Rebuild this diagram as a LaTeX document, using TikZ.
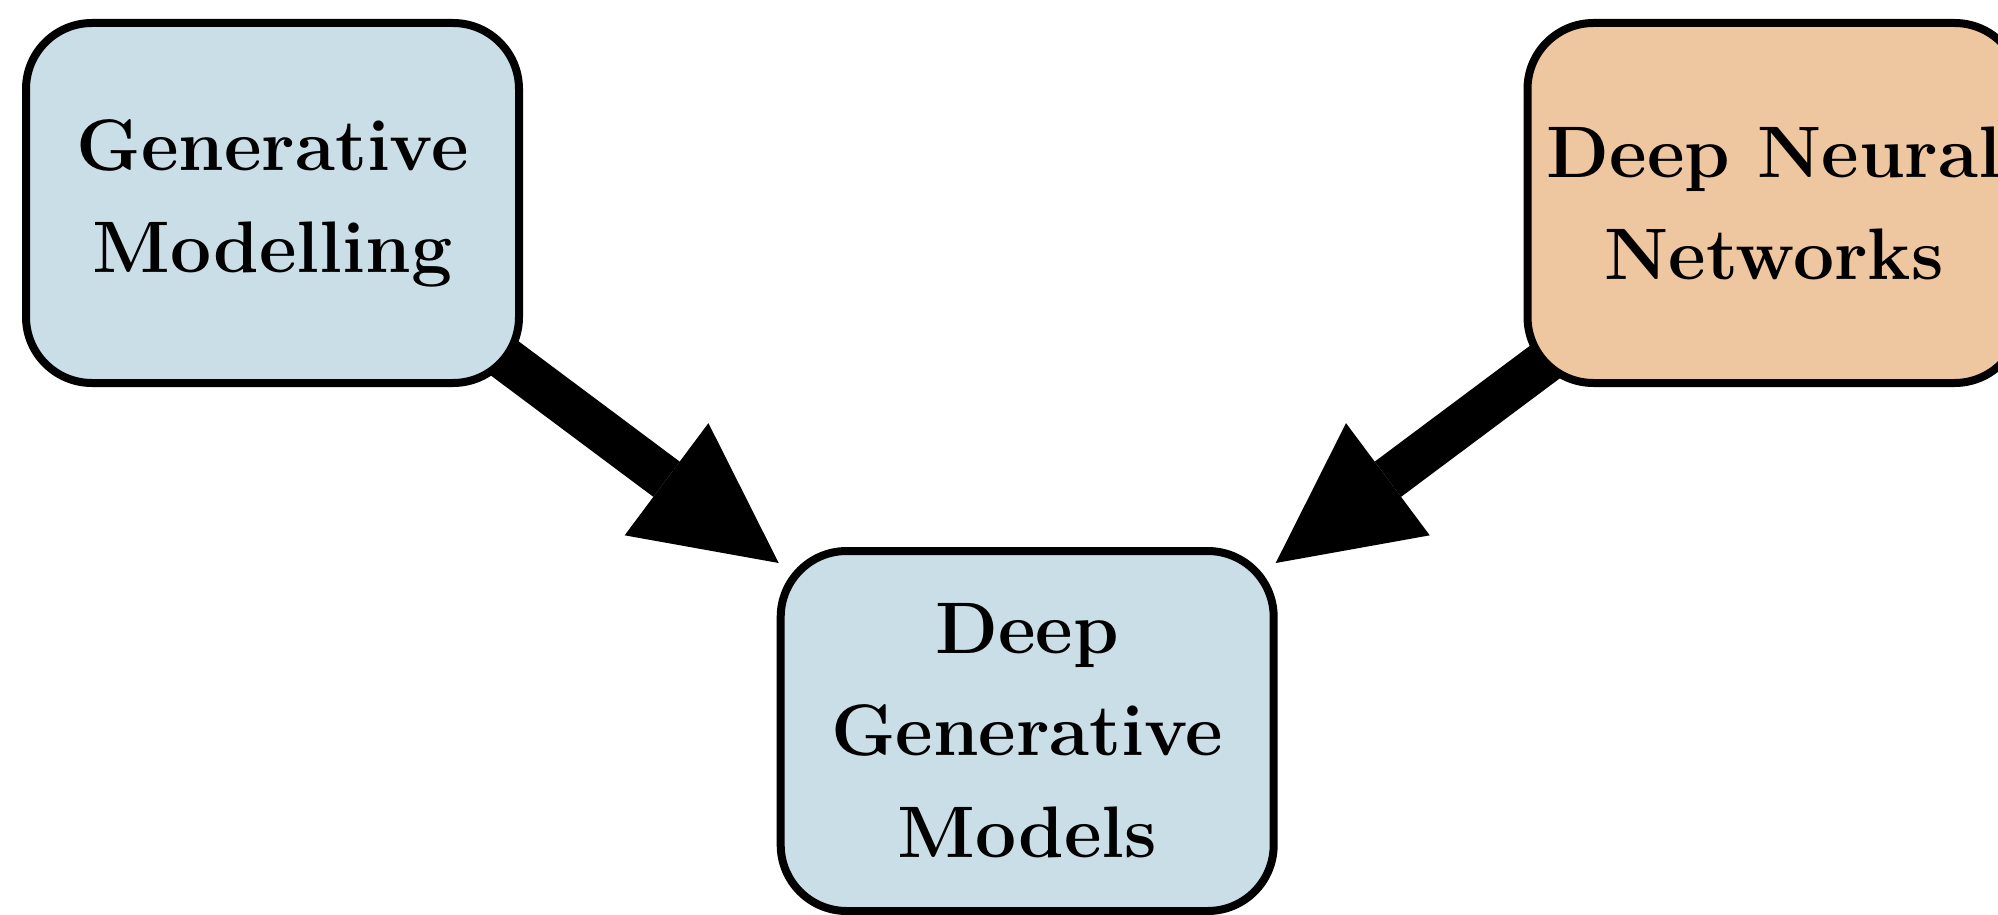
\documentclass[tikz,border=0pt]{standalone}
\usetikzlibrary{arrows.meta,calc}
\definecolor{boxblue}{RGB}{202,222,232}
\definecolor{boxorange}{RGB}{238,198,160}
\pgfdeclarelayer{background}
\pgfsetlayers{background,main}
\tikzset{
  conceptbox/.style={draw=black, line width=4pt, rounded corners=33pt,
    minimum width=246.5pt, minimum height=180pt, align=center,
    inner sep=0pt, font=\fontsize{36.5}{51}\selectfont\bfseries},
  bigarrow/.style={line width=22pt,
    -{Triangle[length=70pt,width=70pt,line width=0pt]}}
}
\begin{document}
\begin{tikzpicture}[x=0.5pt,y=-0.5pt]
\useasboundingbox (0,0) rectangle (1998,915);
\node[conceptbox, fill=boxblue] (gm) at (272.5,203) {Generative\\Modelling};
\node[conceptbox, fill=boxorange] (dnn) at (1774,203) {Deep Neural\\Networks};
\node[conceptbox, fill=boxblue] (dgm) at (1027.2,731) {Deep\\Generative\\Models};
\coordinate (s1) at ($(gm.center)+(0,-18)$);
\coordinate (s2) at ($(dnn.center)+(8,-18)$);
\coordinate (t1) at ($(dgm.north west)+(2,16)$);
\coordinate (t2) at ($(dgm.north east)+(-2,16)$);
\begin{pgfonlayer}{background}
\draw[bigarrow] (s1) -- (t1);
\draw[bigarrow] (s2) -- (t2);
\end{pgfonlayer}
\end{tikzpicture}
\end{document}
